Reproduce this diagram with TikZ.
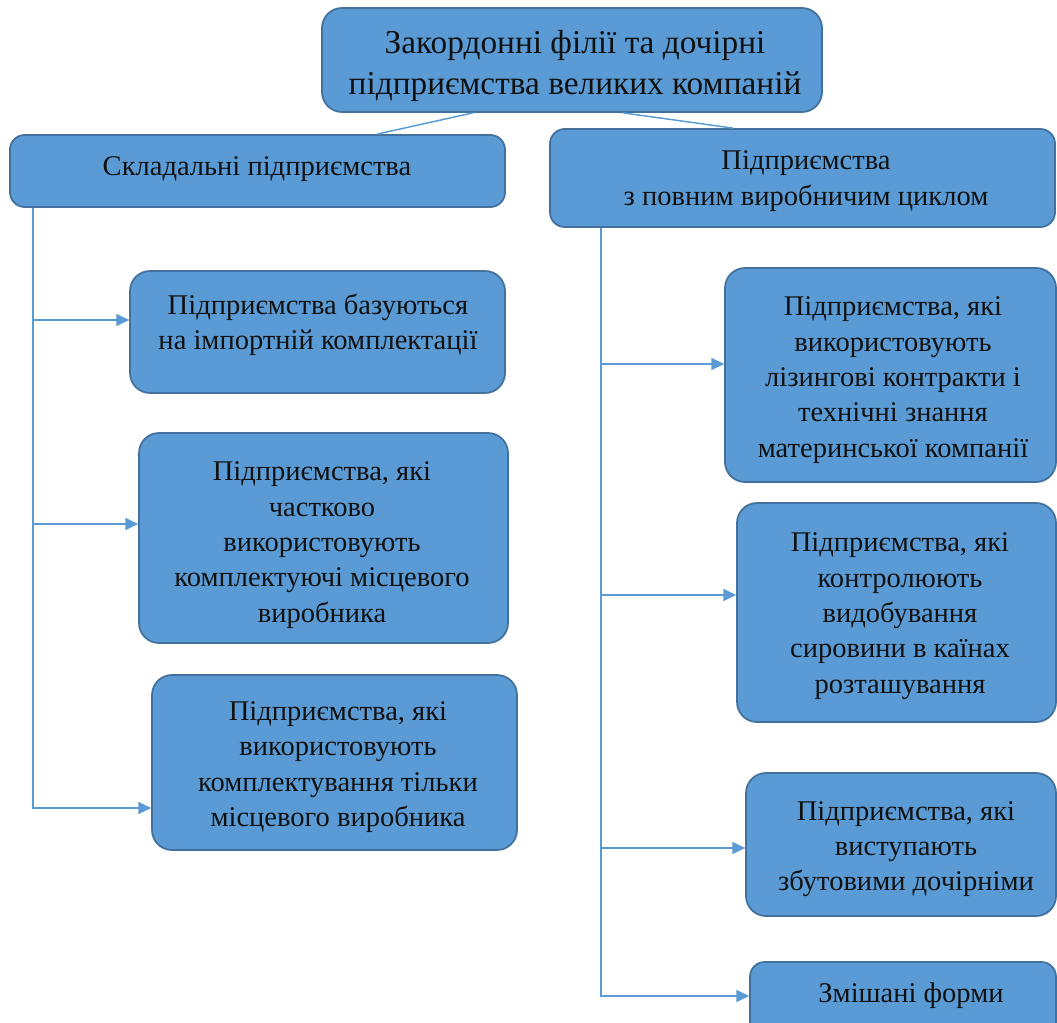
\documentclass[tikz,border=0pt]{standalone}
\usepackage{fontspec}
\setmainfont{Liberation Serif}
\usetikzlibrary{arrows.meta,fit}
\definecolor{boxfill}{HTML}{5B9BD5}
\definecolor{boxline}{HTML}{41719C}
\definecolor{conncol}{HTML}{5B9BD5}
\definecolor{txtcol}{HTML}{111111}
\tikzset{
  box/.style={draw=boxline, fill=boxfill, line width=1.3pt, rounded corners=15pt, inner sep=0pt},
  hbox/.style={box, rounded corners=11pt},
  txt/.style={align=center, text=txtcol, inner sep=0pt, font=\fontsize{21.4}{26.5}\selectfont},
  bigtxt/.style={txt, font=\fontsize{25}{30.5}\selectfont},
  conn/.style={draw=conncol, line width=1.1pt},
  arr/.style={conn, -{Triangle[length=9.5pt,width=9pt]}},
}
\begin{document}
\begin{tikzpicture}[x=0.75pt,y=-0.75pt]
\clip (0,0) rectangle (1057,1023);
\fill[white] (0,0) rectangle (1057,1023);
% boxes
\node[box, fit={(322,8) (822,112)}] (top) {};
\node[hbox, fit={(10,135) (505,207)}] (lh) {};
\node[hbox, fit={(550,129) (1055,227)}] (rh) {};
\node[box, fit={(130,271) (505,393)}] (L1) {};
\node[box, fit={(139,433) (508,643)}] (L2) {};
\node[box, fit={(152,675) (517,850)}] (L3) {};
\node[box, fit={(725,268) (1056,482)}] (R1) {};
\node[box, fit={(737,503) (1056,722)}] (R2) {};
\node[box, fit={(746,773) (1056,916)}] (R3) {};
\node[hbox, fit={(750,962) (1056,1040)}] (R4) {};
% texts
\node[bigtxt] (topt) at (575,66) {Закордонні філії та дочірні\\підприємства великих компаній};
\node[txt] (lht) at (257,169) {Складальні підприємства};
\node[txt] (rht) at (806,181) {Підприємства\\з повним виробничим циклом};
\node[txt] (L1t) at (318,325) {Підприємства базуються\\на імпортній комплектації};
\node[txt] (L2t) at (322,545) {Підприємства, які\\частково\\використовують\\комплектуючі місцевого\\виробника};
\node[txt] (L3t) at (338,767) {Підприємства, які\\використовують\\комплектування тільки\\місцевого виробника};
\node[txt] (R1t) at (893,380) {Підприємства, які\\використовують\\лізингові контракти і\\технічні знання\\материнської компанії};
\node[txt] (R2t) at (900,616) {Підприємства, які\\контролюють\\видобування\\сировини в каїнах\\розташування};
\node[txt] (R3t) at (906,849) {Підприємства, які\\виступають\\збутовими дочірніми};
\node[txt] (R4t) at (911,996) {Змішані форми};
% connectors from top
\draw[conn] (top.south -| 473,0) -- (lh.north -| 377,0);
\draw[conn] (top.south -| 623,0) -- (rh.north -| 733,0);
% left trunk
\draw[arr] (lh.south -| 33,0) |- (L3.west |- 0,808);
\draw[arr] (33,320) -- (L1.west |- 0,320);
\draw[arr] (33,524) -- (L2.west |- 0,524);
% right trunk
\draw[arr] (rh.south -| 601,0) |- (R4.west |- 0,996);
\draw[arr] (601,364) -- (R1.west |- 0,364);
\draw[arr] (601,595) -- (R2.west |- 0,595);
\draw[arr] (601,848) -- (R3.west |- 0,848);
\end{tikzpicture}
\end{document}
